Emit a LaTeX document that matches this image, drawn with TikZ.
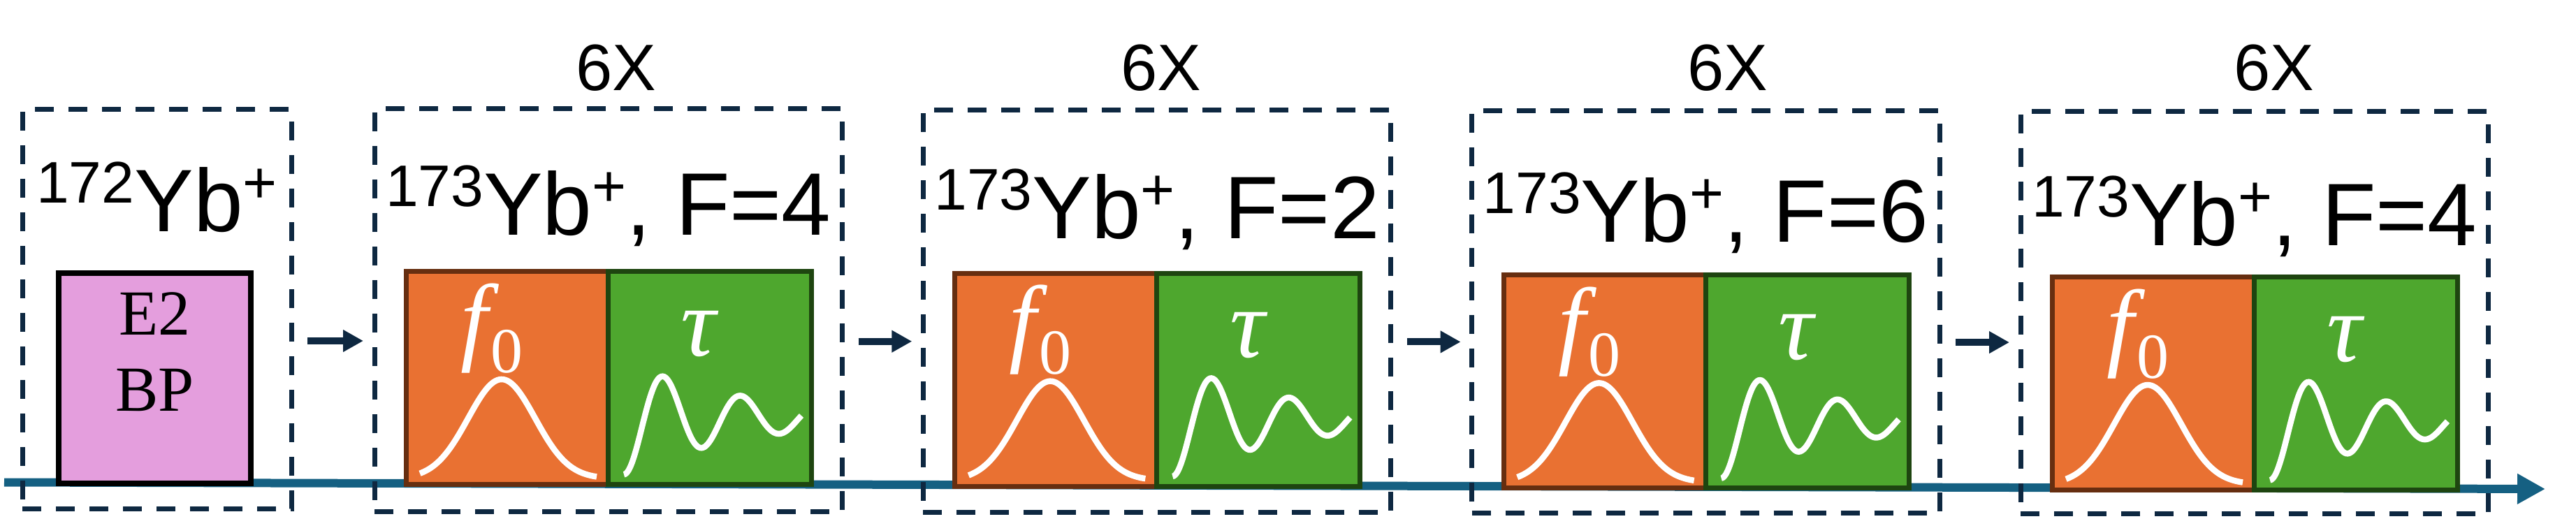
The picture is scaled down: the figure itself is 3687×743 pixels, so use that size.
\documentclass[tikz,border=0pt]{standalone}
\usepackage{fontspec}
\setmainfont{Liberation Sans}
\newfontfamily\bpfont{Liberation Serif}
\newfontfamily\fitfont{Liberation Serif}[UprightFont=*, ItalicFont=* Italic]
\usetikzlibrary{arrows.meta}
\definecolor{navy}{HTML}{0E2841}
\definecolor{tline}{HTML}{156082}
\definecolor{pinkfill}{HTML}{E49EDD}
\definecolor{orangefill}{HTML}{E97132}
\definecolor{orangeedge}{HTML}{662E10}
\definecolor{greenfill}{HTML}{4EA72E}
\definecolor{greenedge}{HTML}{1E4510}
\newcommand{\supx}[1]{\raisebox{41pt}{\fontsize{84}{84}\selectfont #1}}
\newcommand{\fzero}{{\fitfont\itshape f}\kern4pt\raisebox{-29pt}{\fitfont\upshape\fontsize{92}{92}\selectfont 0}}
\newcommand{\tauletter}{{\fitfont\itshape τ}}
\begin{document}
\begin{tikzpicture}[x=1pt,y=-1pt,
  dashbox/.style={rectangle, draw=navy, line width=7pt, dash pattern=on 27pt off 21pt, inner sep=0pt, outer sep=0pt},
  pinkbox/.style={rectangle, draw=black, fill=pinkfill, line width=7.6pt, inner sep=0pt, outer sep=0pt, anchor=north west},
  obox/.style={rectangle, draw=orangeedge, fill=orangefill, line width=7pt, inner sep=0pt, outer sep=0pt, anchor=north west, minimum width=289pt, minimum height=305pt},
  gbox/.style={rectangle, draw=greenedge, fill=greenfill, line width=7pt, inner sep=0pt, outer sep=0pt, anchor=north west, minimum width=291pt, minimum height=305pt},
  maintext/.style={anchor=base, inner sep=0pt, font=\fontsize{127}{130}\selectfont},
  sixtext/.style={anchor=base, inner sep=0pt, font=\fontsize{94}{94}\selectfont},
  bptext/.style={anchor=base, inner sep=0pt, font=\bpfont\fontsize{92}{92}\selectfont},
  fnode/.style={anchor=base, inner sep=0pt, text=white, font=\fontsize{140}{140}\selectfont},
  taunode/.style={anchor=base, inner sep=0pt, text=white, font=\fontsize{140}{140}\selectfont},
  curve/.style={draw=white, line width=8.5pt},
  flowarrow/.style={draw=navy, line width=10pt, -{Triangle[length=29pt, width=30pt]}},
  timeline/.style={draw=tline, line width=12pt, -{Triangle[length=40pt, width=41pt]}}
]
\useasboundingbox (0,0) rectangle (3687,743);

% timeline
\coordinate (tl0) at (6,690.5);
\coordinate (tl1) at (3643,700);
\draw[timeline] (tl0) -- (tl1);

% first block
\node[dashbox, minimum width=385pt, minimum height=571pt] (b1) at (224.5,442.5) {};
\node[pinkbox, minimum width=275.4pt, minimum height=301.4pt] (pk) at (83.8,390.8) {};
\node[maintext] (t1) at (224.5,332) {\supx{172}Yb\supx{+}};
\node[bptext] (e2) at (221.5,479) {E2};
\node[bptext] (bpl) at (221.5,588) {BP};

\foreach \n/\F/\sx [count=\k from 0] in {2/4/882, 3/2/1662, 4/6/2473, 5/4/3255} {
  \pgfmathsetmacro\L{536+785.33*\k}
  \pgfmathsetmacro\cx{\L+334.75}
  \pgfmathsetmacro\cy{444+1.15*\k}
  \pgfmathsetmacro\Oy{388.5+2.7*\k}
  \pgfmathsetmacro\base{337+4.7*\k}
  \pgfmathsetmacro\ox{\L+42}
  \pgfmathsetmacro\oy{\Oy-3.5}
  \pgfmathtruncatemacro\pn{\n-1}
  \pgfmathsetmacro\ay{488+0.7*\k}
  \pgfmathsetmacro\pcy{\k==0 ? 442.5 : 444+1.15*(\k-1)}
  \pgfmathsetmacro\sa{\pcy-\ay}
  \pgfmathsetmacro\sb{\cy-\ay}
  \node[dashbox, minimum width=669.5pt, minimum height=576pt] (b\n) at (\cx,\cy) {};
  \node[sixtext] (six\n) at (\sx,130) {6X};
  \node[maintext] (t\n) at (\cx,\base) {\supx{173}Yb\supx{+}, F=\F};
  \node[obox] (o\n) at (\L+45.5,\Oy) {};
  \node[gbox] (g\n) at (\L+334.5,\Oy) {};
  \draw[curve] plot[domain=23:276, samples=90, smooth] ({\ox+\x},{\oy+300-142*exp(-((\x-140)/67.88)*((\x-140)/67.88))});
  \draw[curve] plot[domain=315:569, samples=120, smooth] ({\ox+\x},{\oy+213-59*exp(-(\x-372)/176)*cos(3.24324*(\x-372))});
  \node[fnode] (f\n) at (\ox+126,\oy+119) {\fzero};
  \node[taunode] (tau\n) at (\ox+422,\oy+124) {\tauletter};
  \draw[flowarrow] ([xshift=23pt,yshift=\sa pt]b\pn.east) -- ([xshift=-16pt,yshift=\sb pt]b\n.west);
}
\end{tikzpicture}
\end{document}
